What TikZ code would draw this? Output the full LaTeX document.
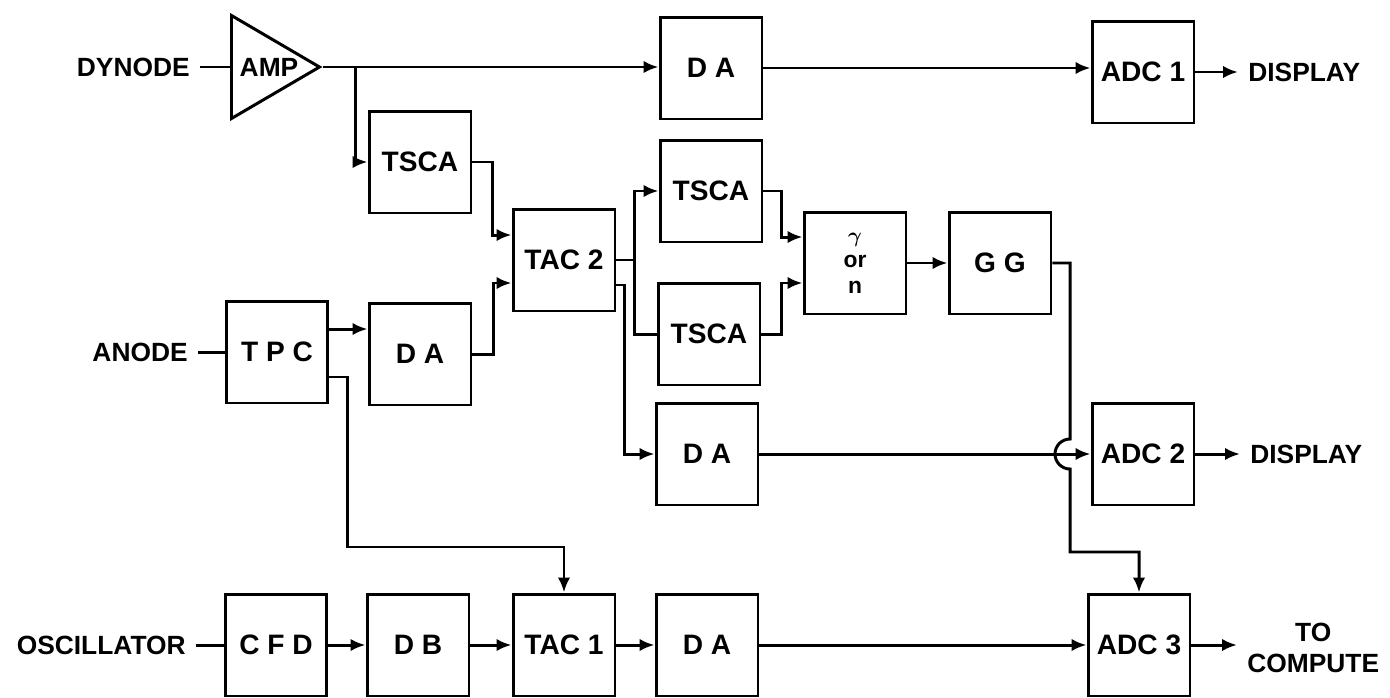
\documentclass[tikz,border=0pt]{standalone}
\usepackage{bm}
\usepackage{fontspec}
\setmainfont{Liberation Sans}
\usepackage{tikz}
\usetikzlibrary{shapes.geometric, arrows.meta, positioning}

\begin{document}
\begin{tikzpicture}[
    x=0.02cm, y=-0.02cm,
    every node/.style={font=\fontsize{15}{18}\selectfont\bfseries, align=center},
    blk/.style={draw=black, fill=white, minimum width=2.04cm, minimum height=2.04cm, line width=1.7pt, inner sep=1pt, font=\fontsize{16}{18}\selectfont\bfseries},
    amptri/.style={draw=black, isosceles triangle, isosceles triangle stretches, shape border rotate=0, minimum width=2.06cm, minimum height=1.76cm, inner sep=0pt, line width=1.7pt},
    lbl/.style={inner xsep=0.2cm, inner ysep=1pt},
    wire/.style={line width=1.7pt},
    arr/.style={-{Latex[length=3mm, width=2.5mm]}, line width=1.7pt}
]
\useasboundingbox (0,0) rectangle (1390,697);

% Row 1: dynode branch
\node[amptri, anchor=west] (amp) at (230,67) {};
\node[right=2pt of amp.west] (amptext) {AMP};
\node[lbl, anchor=east] (dyn) at (200,67) {DYNODE};
\node[blk] (daA) at (711,68) {D A};
\node[blk] (adcA) at (1143,72) {ADC 1};
\node[lbl, anchor=west] (dispA) at (1238,72) {DISPLAY};
\node[blk] (tscaA) at (420,162) {TSCA};

% Row 2: anode branch
\node[lbl, anchor=east] (anode) at (198,352) {ANODE};
\node[blk] (tpc) at (277,352) {T P C};
\node[blk] (daB) at (420,354) {D A};
\node[blk] (tacB) at (564,260) {TAC 2};
\node[blk] (tscaU) at (711,191) {TSCA};
\node[blk] (tscaL) at (709,334) {TSCA};
\node[blk, font=\fontsize{13}{14.5}\selectfont\bfseries] (gam) at (855,263) {$\bm{\gamma}$\\or\\n};
\node[blk] (gg) at (1000,263) {G G};
\node[blk] (daC) at (707,454) {D A};
\node[blk] (adcB) at (1143,454) {ADC 2};
\node[lbl, anchor=west] (dispB) at (1240,454) {DISPLAY};
\coordinate (hop) at (1070,454);

% Row 3: oscillator branch
\node[lbl, anchor=east] (osc) at (196,645) {OSCILLATOR};
\node[blk] (cfd) at (276,645) {C F D};
\node[blk] (db) at (418,645) {D B};
\node[blk] (tacA) at (564,645) {TAC 1};
\node[blk] (daD) at (707,645) {D A};
\node[blk] (adcC) at (1139,645) {ADC 3};
\node[lbl, anchor=west] (comp) at (1237,648) {TO\\COMPUTE};

% Connectors
\draw[wire] (dyn.east) -- (amp.west);
\draw[arr] (amp.apex) -- (amp.apex -| daA.west);
\draw[arr] ([xshift=0.64cm]amp.apex) |- (tscaA);
\draw[arr] (daA.east) -- (daA.east -| adcA.west);
\draw[arr] (adcA) -- (dispA);
\draw[arr] (tscaA.east) -- ++(20,0) |- ([yshift=0.5cm]tacB.west);
\draw[wire] (anode.east) -- (tpc);
\draw[arr] ([yshift=0.46cm]tpc.east) -- ([yshift=0.46cm]tpc.east -| daB.west);
\draw[arr] (daB.east) -- ++(21,0) |- ([yshift=-0.46cm]tacB.west);
\draw[arr] ([yshift=-0.5cm]tpc.east) -- ++(18,0) -- ++(0,170) -| (tacA.north);
\draw[arr] (tacB.east) -- ++(18,0) |- (tscaU);
\draw[wire] (tacB.east) ++(18,0) |- (tscaL);
\draw[arr] ([yshift=-0.5cm]tacB.east) -- ++(8,0) |- (daC);
\draw[arr] (tscaU.east) -- ++(18,0) |- ([yshift=0.52cm]gam.west);
\draw[arr] (tscaL.east) -- ++(20,0) |- ([yshift=-0.4cm]gam.west);
\draw[arr] (gam) -- (gg);
\draw[arr] (daC) -- (adcB);
\draw[arr] (adcB) -- (dispB);
\draw[arr] (gg.east) -| ([yshift=0.3cm]hop) arc[start angle=90, end angle=270, radius=0.3cm] -- ++(0,83) -| (adcC.north);
\draw[wire] (osc.east) -- (cfd);
\draw[arr] (cfd) -- (db);
\draw[arr] (db) -- (tacA);
\draw[arr] (tacA) -- (daD);
\draw[arr] (daD) -- (adcC);
\draw[arr] (adcC.east) -- (adcC.east -| comp.west);

\end{tikzpicture}
\end{document}
